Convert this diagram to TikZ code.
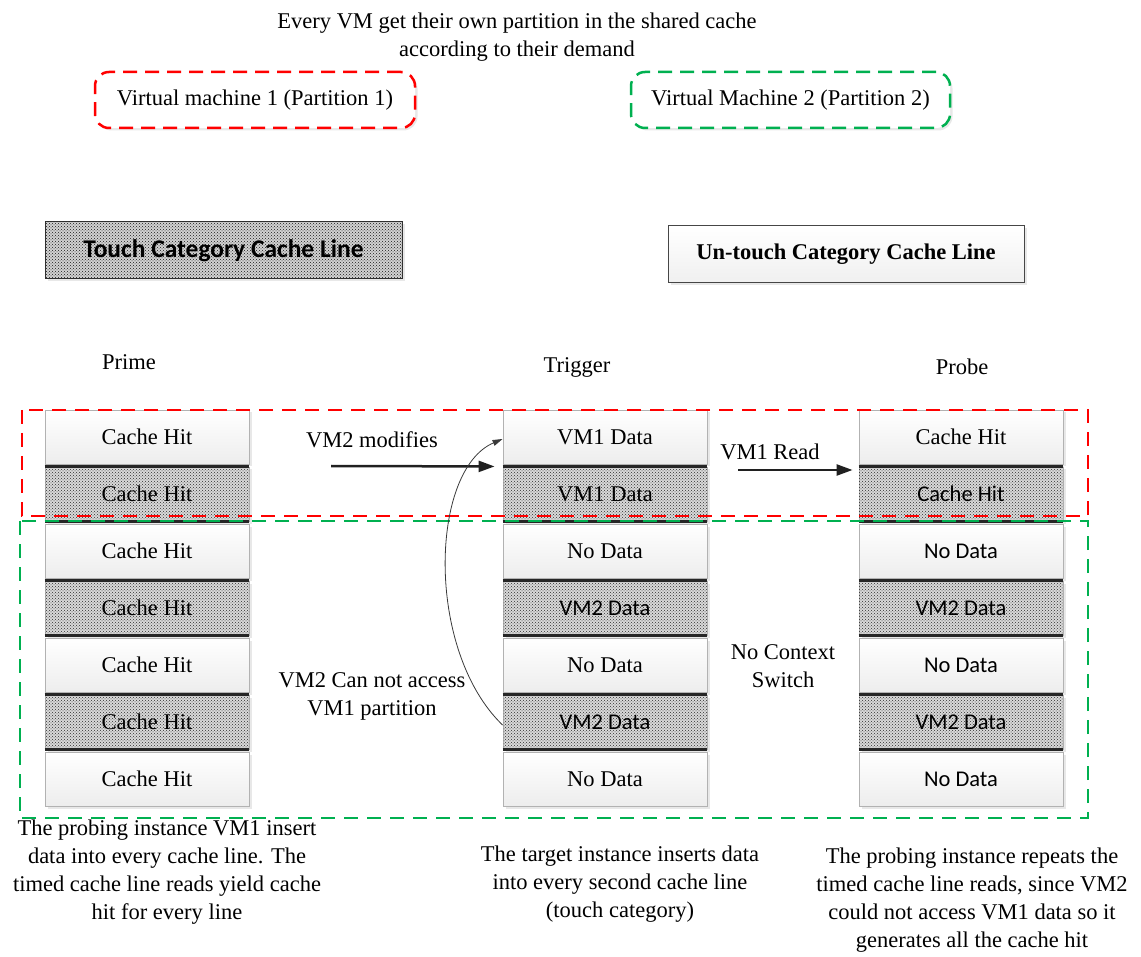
\documentclass[tikz,border=0pt]{standalone}
\usepackage{fontspec}
\setmainfont{Liberation Serif}
\newfontfamily\calib{Carlito}
\usetikzlibrary{arrows.meta,patterns,shadows}

\tikzset{
  txt/.style={font=\fontsize{22.5}{28}\selectfont},
  shade box/.style={drop shadow={shadow xshift=2.5pt, shadow yshift=-2.5pt, fill=gray!35}},
  cell/.style={txt, shade box, draw=gray!60, line width=0.9pt,
    minimum width=204pt, minimum height=54pt, inner sep=0pt,
    top color=white, bottom color=gray!14},
  touchcell/.style={txt, shade box, draw=gray!60, line width=0.9pt,
    minimum width=204pt, minimum height=54pt, inner sep=0pt,
    fill=gray!30, postaction={pattern=crosshatch dots, pattern color=gray!35!black}},
  edgeline/.style={line width=3pt, draw=gray!30!black},
  vmbox/.style={txt, shade box, rounded corners=14pt, dash pattern=on 14pt off 8pt,
    line width=2.5pt, minimum width=320pt, minimum height=56pt, fill=white},
  zone/.style={dash pattern=on 14pt off 9pt, line width=2pt},
  bigarrow/.style={line width=2.5pt, draw=gray!25!black, -{Triangle[length=16pt,width=11pt]}},
  thinarrow/.style={line width=0.8pt, draw=gray!45!black, -{Triangle[length=10pt,width=6pt]}},
  caption/.style={txt, align=center, inner sep=0pt}
}
\definecolor{vmred}{RGB}{255,0,0}
\definecolor{vmgreen}{RGB}{0,176,80}

\begin{document}
\begin{tikzpicture}[x=1pt,y=-1pt]
\useasboundingbox (0,0) rectangle (1141,957);

% heading
\node[caption] (title) at (517,37) {Every VM get their own partition in the shared cache\\according to their demand};

% partition owners
\node[vmbox, draw=vmred] (vm1) at (255,100) {Virtual machine 1 (Partition 1)};
\node[vmbox, draw=vmgreen, minimum width=319pt] (vm2) at (790.5,100) {Virtual Machine 2 (Partition 2)};

% legend
\node[shade box, draw=gray!40!black, line width=1pt, minimum width=357pt, minimum height=57pt,
      fill=gray!35, postaction={pattern=crosshatch dots, pattern color=gray!20!black},
      font=\calib\bfseries\fontsize{25.5}{28}\selectfont] (touchleg) at (223.5,250.5) {Touch Category Cache Line};
\node[shade box, draw=gray!55!black, line width=1pt, minimum width=356pt, minimum height=57pt,
      top color=white, bottom color=gray!12,
      font=\bfseries\fontsize{22.5}{28}\selectfont] (untouchleg) at (846,254.5) {Un-touch Category Cache Line};

% column headings
\node[txt] (hprime) at (129,362) {Prime};
\node[txt] (htrig) at (577,367) {Trigger};
\node[txt] (hprobe) at (962,367) {Probe};

% prime column
\foreach \i/\y/\kind in {1/437/cell,2/494/touchcell,3/551/cell,4/608/touchcell,5/665/cell,6/722/touchcell,7/779/cell}
  \node[\kind] (prime\i) at (147,\y) {Cache Hit};

% trigger column
\foreach \i/\y/\kind/\t in {1/437/cell/{VM1 Data},2/494/touchcell/{VM1 Data},3/551/cell/{No Data},
    4/608/touchcell/{\calib VM2 Data},5/665/cell/{No Data},6/722/touchcell/{\calib VM2 Data},7/779/cell/{No Data}}
  \node[\kind] (trig\i) at (605,\y) {\t};

% probe column
\foreach \i/\y/\kind/\t in {1/437/cell/{Cache Hit},2/494/touchcell/{\calib Cache Hit},3/551/cell/{\calib No Data},
    4/608/touchcell/{\calib VM2 Data},5/665/cell/{\calib No Data},6/722/touchcell/{\calib VM2 Data},7/779/cell/{\calib No Data}}
  \node[\kind] (probe\i) at (961,\y) {\t};

% heavy edges of the touched lines
\foreach \c in {prime,trig,probe}
  \foreach \i in {2,4,6} {
    \draw[edgeline] (\c\i.north west) -- (\c\i.north east);
    \draw[edgeline] (\c\i.south west) -- (\c\i.south east);
  }

% partitions of the shared cache
\draw[zone, draw=vmred] (22,410) rectangle (1088,516);
\draw[zone, draw=vmgreen] (20,521) rectangle (1088,818);

% actions
\node[txt] (lmod) at (372,440) {VM2 modifies};
\coordinate (modstart) at (331,466);
\draw[bigarrow] (modstart) -- ([xshift=-8pt, yshift=-2pt]trig1.south west);

\node[txt] (lread) at (770,452) {VM1 Read};
\coordinate (readstart) at (738,470);
\draw[bigarrow] (readstart) -- ([xshift=-6pt, yshift=24pt]probe2.west);

\draw[thinarrow] ([yshift=-3pt]trig6.west) .. controls (425,650) and (430,470) .. ([yshift=-2pt]trig1.west);

\node[caption] (noaccess) at (372,696) {VM2 Can not access\\VM1 partition};
\node[caption] (noswitch) at (783,666.5) {No Context\\Switch};

% step descriptions
\node[caption] (dprime) at (167,872.5) {The probing instance VM1 insert\\data into every cache line. The\\timed cache line reads yield cache\\hit for every line};
\node[caption] (dtrig) at (620,884.5) {The target instance inserts data\\into every second cache line\\(touch category)};
\node[caption] (dprobe) at (972,900) {The probing instance repeats the\\timed cache line reads, since VM2\\could not access VM1 data so it\\generates all the cache hit};
\end{tikzpicture}
\end{document}
